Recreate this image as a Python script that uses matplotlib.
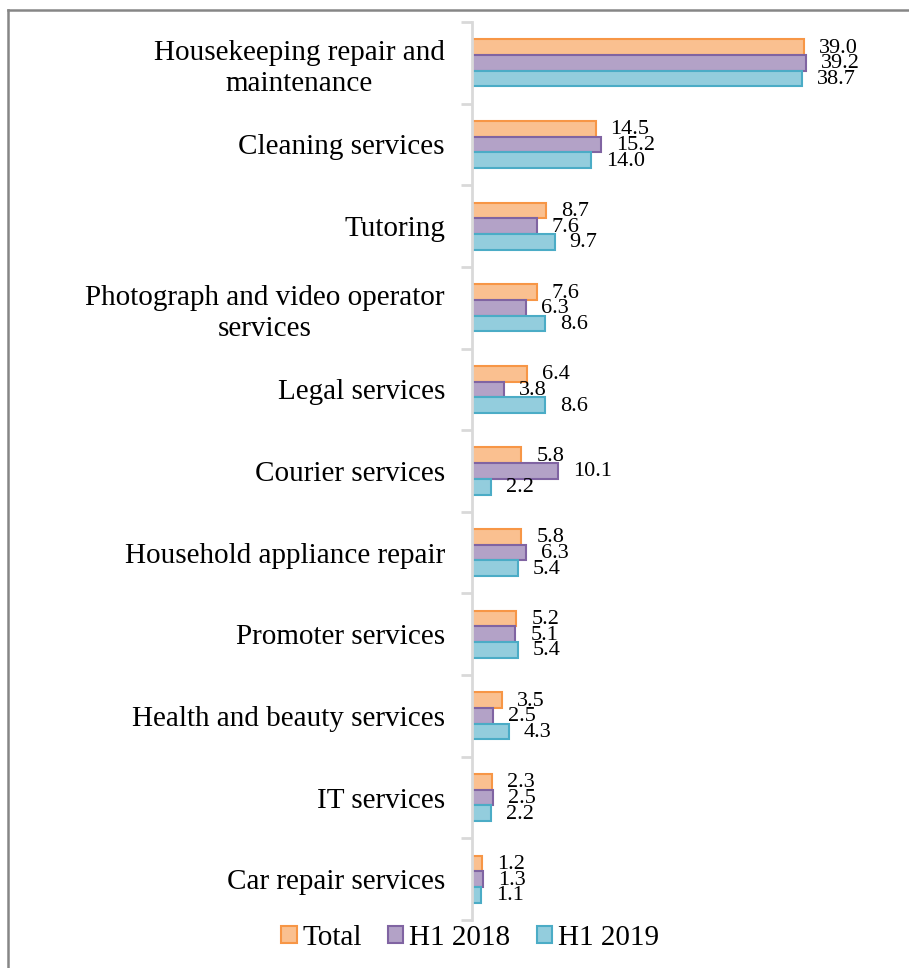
import matplotlib
matplotlib.use("Agg")
import matplotlib.pyplot as plt
import numpy as np
from matplotlib.lines import Line2D
from matplotlib.patches import Patch

plt.rcParams['font.family'] = ['Liberation Serif', 'DejaVu Serif']

categories = [
    "Housekeeping repair and\nmaintenance",
    "Cleaning services",
    "Tutoring",
    "Photograph and video operator\nservices",
    "Legal services",
    "Courier services",
    "Household appliance repair",
    "Promoter services",
    "Health and beauty services",
    "IT services",
    "Car repair services",
]
series_names = ["Total", "H1 2018", "H1 2019"]
total = [39.0, 14.5, 8.7, 7.6, 6.4, 5.8, 5.8, 5.2, 3.5, 2.3, 1.2]
h1_2018 = [39.2, 15.2, 7.6, 6.3, 3.8, 10.1, 6.3, 5.1, 2.5, 2.5, 1.3]
h1_2019 = [38.7, 14.0, 9.7, 8.6, 8.6, 2.2, 5.4, 5.4, 4.3, 2.2, 1.1]

fills = ["#FAC090", "#B3A2C7", "#93CDDD"]
edges = ["#F79646", "#8064A2", "#4BACC6"]

W, H = 909, 968
fig = plt.figure(figsize=(W / 100, H / 100), dpi=100)
ax = fig.add_axes([472 / W, 1 - 920 / H, 1 - 472 / W, (920 - 22) / H])

n = len(categories)
y = np.arange(n)
bh = 0.192
data = [total, h1_2018, h1_2019]
for k, vals in enumerate(data):
    yy = y + (k - 1) * bh
    ax.barh(yy, vals, height=bh, color=fills[k], edgecolor=edges[k],
            linewidth=1.5, label=series_names[k])
    for yi, v in zip(yy, vals):
        ax.annotate(f"{v:.1f}", xy=(v, yi), xytext=(15, -1), textcoords="offset pixels",
                    ha="left", va="center", fontsize=16, color="#000000")

ax.set_ylim(n - 0.5, -0.5)
ax.set_xlim(0, 51.3)
ax.set_xticks([])
ax.set_yticks(np.arange(-0.5, n, 1.0))
ax.set_yticklabels([])
ax.set_yticks(y, minor=True)
ax.set_yticklabels(categories, minor=True, fontsize=21, ha="right",
                   multialignment="center", linespacing=1.25)
ax.tick_params(axis="y", which="minor", length=0, pad=19.5)
ax.tick_params(axis="y", which="major", length=8, width=2, color="#D9D9D9")
for s in ["top", "right", "bottom"]:
    ax.spines[s].set_visible(False)
ax.spines["left"].set_color("#D9D9D9")
ax.spines["left"].set_linewidth(2)

handles = [Patch(facecolor=fills[k], edgecolor=edges[k], linewidth=1.5,
                 label=series_names[k]) for k in range(3)]
fig.legend(handles=handles, loc="center", bbox_to_anchor=(470 / W, 1 - 938 / H),
           ncol=3, frameon=False, fontsize=21, handlelength=0.52, handleheight=0.52,
           handletextpad=0.2, columnspacing=0.9, borderpad=0)

# outer border (chart area cropped at right and bottom)
fig.add_artist(Line2D([8 / W, 8 / W], [0, 1 - 10 / H], transform=fig.transFigure,
                      color="#868686", linewidth=1.8))
fig.add_artist(Line2D([8 / W, 1], [1 - 10 / H, 1 - 10 / H], transform=fig.transFigure,
                      color="#868686", linewidth=1.8))

fig.savefig("out.png", dpi=100)
